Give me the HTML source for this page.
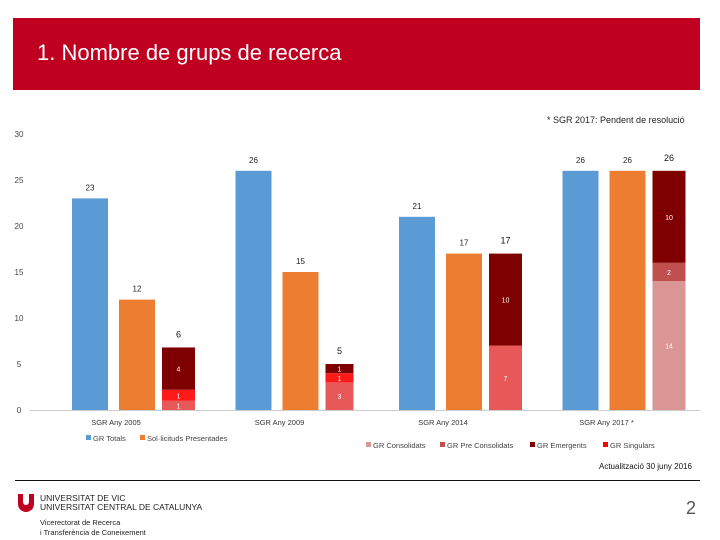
<!DOCTYPE html>
<html><head><meta charset="utf-8"><style>
body{margin:0;width:720px;height:540px;background:#fff;overflow:hidden;font-family:"Liberation Sans",sans-serif;position:relative}
.abs{position:absolute}
</style></head><body>
<div class="abs" style="left:13px;top:18px;width:496px;height:72px;background:#c00021;width:496px"></div>
<div class="abs" style="left:13px;top:18px;width:687px;height:72px;background:#c00021"></div>
<div class="abs" style="left:37px;top:40px;color:#fff;font-size:22px">1. Nombre de grups de recerca</div>
<div class="abs" style="left:547px;top:115px;font-size:9px;color:#222">* SGR 2017: Pendent de resolució</div>
<svg class="abs" style="left:0;top:0" width="720" height="540" id="chart"></svg>
<div class="abs" style="left:599px;top:462px;font-size:8px;color:#111">Actualització 30 juny 2016</div>
<div class="abs" style="left:15px;top:480px;width:685px;height:1px;background:#111"></div>
<div class="abs" style="left:18px;top:494px;width:16px;height:18px;background:#c00021;border-radius:0 0 8px 8px"></div>
<div class="abs" style="left:23px;top:494px;width:6px;height:11px;background:#fff;border-radius:0 0 3px 3px"></div>
<div class="abs" style="left:40px;top:494px;font-size:8.5px;line-height:9px;color:#222">UNIVERSITAT DE VIC<br>UNIVERSITAT CENTRAL DE CATALUNYA</div>
<div class="abs" style="left:40px;top:518px;font-size:7.5px;line-height:10px;color:#222">Vicerectorat de Recerca<br>i Transferència de Coneixement</div>
<div class="abs" style="left:686px;top:498px;font-size:18px;color:#555">2</div>
<script>
const categories=["SGR Any 2005","SGR Any 2009","SGR Any 2014","SGR Any 2017 *"];
const totals=[23,26,21,26];
const presented=[12,15,17,26];
const stackBase=[1,3,7,14];
const stackMid=[1.2,1,0,2];
const stackTop=[4.6,1,10,10];
const baseLabels=["1","3","7","14"];
const midLabels=["1","1","0","2"];
const topLabels=["4","1","10","10"];
const stackTotals=["6","5","17","26"];
const baseColors=["#e85858","#e85858","#e85858","#d99694"];
const midColors=["#ff1a1a","#ff1a1a","#e85858","#c0504d"];
const yTicks=[0,5,10,15,20,25,30];
const svg=document.getElementById('chart');const NS="http://www.w3.org/2000/svg";
const y=v=>410-v*9.2;
const gx=i=>72+i*163.5;
function el(t,a,txt){const e=document.createElementNS(NS,t);for(const k in a)e.setAttribute(k,a[k]);if(txt!==undefined)e.textContent=txt;svg.appendChild(e);return e;}
yTicks.forEach(t=>{const e=el('text',{x:19,y:y(t)+3,'font-size':8,fill:'#444','text-anchor':'middle'},t);

});
let ax=el('line',{x1:30,x2:700,y1:410.5,y2:410.5,stroke:'#ccc'});


function bar(x,w,v0,v1,c,name){const r=el('rect',{x:x,y:y(v1),width:w,height:y(v0)-y(v1),fill:c});

return r;}
function lbl(x,yy,t,c,s,name){const e=el('text',{x:x,y:yy,'font-size':s,fill:c,'text-anchor':'middle'},t);

}
categories.forEach((c,i)=>{const x=gx(i);
bar(x,36,0,totals[i],'#5b9bd5','bar-totals-'+i);
lbl(x+18,y(totals[i])-8,totals[i],'#222',8,'label-totals-'+i);
bar(x+47,36,0,presented[i],'#ed7d31','bar-presented-'+i);
lbl(x+65,y(presented[i])-8,presented[i],'#222',8,'label-presented-'+i);
const sx=x+90,w=i==1?28:33;
const a=stackBase[i],b=a+stackMid[i],t=b+stackTop[i];
bar(sx,w,0,a,baseColors[i],'bar-base-'+i);
if(stackMid[i]>0)bar(sx,w,a,b,midColors[i],'bar-mid-'+i);
bar(sx,w,b,t,'#7f0000','bar-emergents-'+i);
lbl(sx+w/2,(y(0)+y(a))/2+3,baseLabels[i],'#fff',7,'label-base-'+i);
if(stackMid[i]>0)lbl(sx+w/2,(y(a)+y(b))/2+3,midLabels[i],'#fff',7,'label-mid-'+i);
lbl(sx+w/2,(y(b)+y(t))/2+3,topLabels[i],'#fff',7,'label-emergents-'+i);
lbl(sx+w/2,y(t)-10,stackTotals[i],'#111',9,'label-stack-total-'+i);
lbl(x+44,425,c,'#333',7.5,'x-label-'+i);
});
const legend=[["GR Totals","#5b9bd5",86,441],["Sol·licituds Presentades","#ed7d31",140,441],["GR Consolidats","#d99694",366,448],["GR Pre Consolidats","#c0504d",440,448],["GR Emergents","#7f0000",530,448],["GR Singulars","#ff0000",603,448]];
legend.forEach((l,i)=>{const r=el('rect',{x:l[2],y:l[3]-6,width:5,height:5,fill:l[1]});


const t=el('text',{x:l[2]+7,y:l[3],'font-size':7.5,fill:'#444'},l[0]);

});
</script>
</body></html>
